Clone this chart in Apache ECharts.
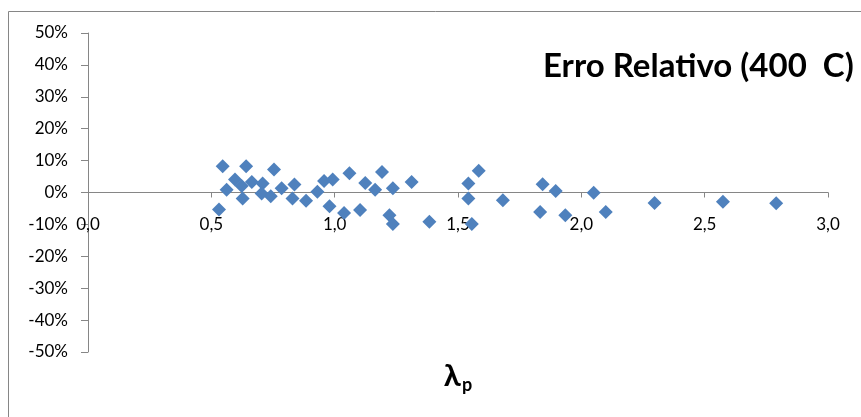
<!DOCTYPE html>
<html>
<head>
<meta charset="utf-8">
<script src="https://cdn.jsdelivr.net/npm/echarts@6/dist/echarts.min.js"></script>
<style>
  html, body { margin: 0; padding: 0; background: #fff; }
  #chart { width: 861px; height: 417px; }
</style>
</head>
<body>
<div id="chart"></div>
<script>
// λp values (x) and relative error in percent (y)
const lambdaP = [
  0.531, 0.546, 0.562, 0.596, 0.623, 0.627, 0.641, 0.664, 0.708, 0.704,
  0.741, 0.754, 0.785, 0.837, 0.829, 0.884,
  0.930, 0.957, 0.992, 0.979, 1.060, 1.038, 1.103, 1.124, 1.164, 1.192,
  1.236, 1.222, 1.236, 1.312,
  1.384, 1.584, 1.542, 1.542, 1.556, 1.682,
  1.843, 1.833, 1.896, 1.935, 2.050, 2.099,
  2.297, 2.574, 2.790
];
const relError = [
  -5.3, 8.2, 0.9, 4.1, 2.0, -1.9, 8.2, 3.3, 2.8, -0.3,
  -1.2, 7.2, 1.3, 2.5, -1.9, -2.6,
  0.2, 3.6, 4.1, -4.3, 6.0, -6.4, -5.5, 3.0, 0.9, 6.4,
  1.3, -7.1, -9.9, 3.3,
  -9.2, 6.8, 2.8, -1.9, -9.9, -2.4,
  2.6, -6.1, 0.5, -7.1, -0.1, -6.1,
  -3.3, -2.9, -3.4
];

const chartTitle = 'Erro Relativo (400  C)';
const yTicks = { min: -50, max: 50, step: 10 };
const xTicks = { min: 0, max: 3, step: 0.5 };

const points = lambdaP.map((x, i) => [x, relError[i]]);

const axisGrey = '#868686';
const fontFam = 'Lato, "Open Sans", sans-serif';

// plot area
const gridTop = 33, gridBottom = 65, chartH = 417;
const plotH = chartH - gridTop - gridBottom;
// the x axis sits on the 0% line, halfway down the y range
const zeroOffset = -plotH * (0 - yTicks.min) / (yTicks.max - yTicks.min);

const chart = echarts.init(document.getElementById('chart'));
chart.setOption({
  backgroundColor: '#fff',
  animation: false,
  title: {
    text: chartTitle,
    left: 543,
    top: 50,
    padding: 0,
    textStyle: { fontFamily: fontFam, fontWeight: 'bold', fontSize: 33, color: '#000' }
  },
  graphic: [{
    type: 'rect',
    shape: { x: 8.5, y: 11.5, width: 900, height: 500 },
    style: { fill: 'none', stroke: axisGrey, lineWidth: 1 },
    silent: true
  }],
  grid: { left: 88, right: 33, top: gridTop, bottom: gridBottom, outerBoundsMode: 'none', containLabel: false },
  xAxis: {
    type: 'value',
    min: xTicks.min, max: xTicks.max, interval: xTicks.step,
    offset: zeroOffset,
    splitLine: { show: false },
    axisLine: { onZero: false, lineStyle: { color: axisGrey, width: 1 } },
    axisTick: { show: true, length: 5, lineStyle: { color: axisGrey } },
    axisLabel: {
      margin: 24, color: '#000', fontFamily: fontFam, fontSize: 17,
      formatter: v => v.toFixed(1).replace('.', ',')
    },
    name: '{l|λ}{p|p}',
    nameLocation: 'middle',
    nameGap: 168,
    nameTextStyle: {
      rich: {
        l: { fontFamily: fontFam, fontWeight: 'bold', fontSize: 31, color: '#000', verticalAlign: 'bottom' },
        p: { fontFamily: fontFam, fontWeight: 'bold', fontSize: 18, color: '#000', verticalAlign: 'bottom', padding: [0, 0, -3, 1] }
      }
    }
  },
  yAxis: {
    type: 'value',
    min: yTicks.min, max: yTicks.max, interval: yTicks.step,
    splitLine: { show: false },
    axisLine: { show: true, onZero: false, lineStyle: { color: axisGrey, width: 1 } },
    axisTick: { show: true, length: 7, lineStyle: { color: axisGrey } },
    axisLabel: {
      margin: 20, color: '#000', fontFamily: fontFam, fontSize: 17,
      formatter: v => v + '%'
    }
  },
  series: [{
    type: 'scatter',
    data: points,
    symbol: 'diamond',
    symbolSize: 14,
    itemStyle: { color: '#4F81BD', opacity: 1 }
  }]
});
</script>
</body>
</html>
